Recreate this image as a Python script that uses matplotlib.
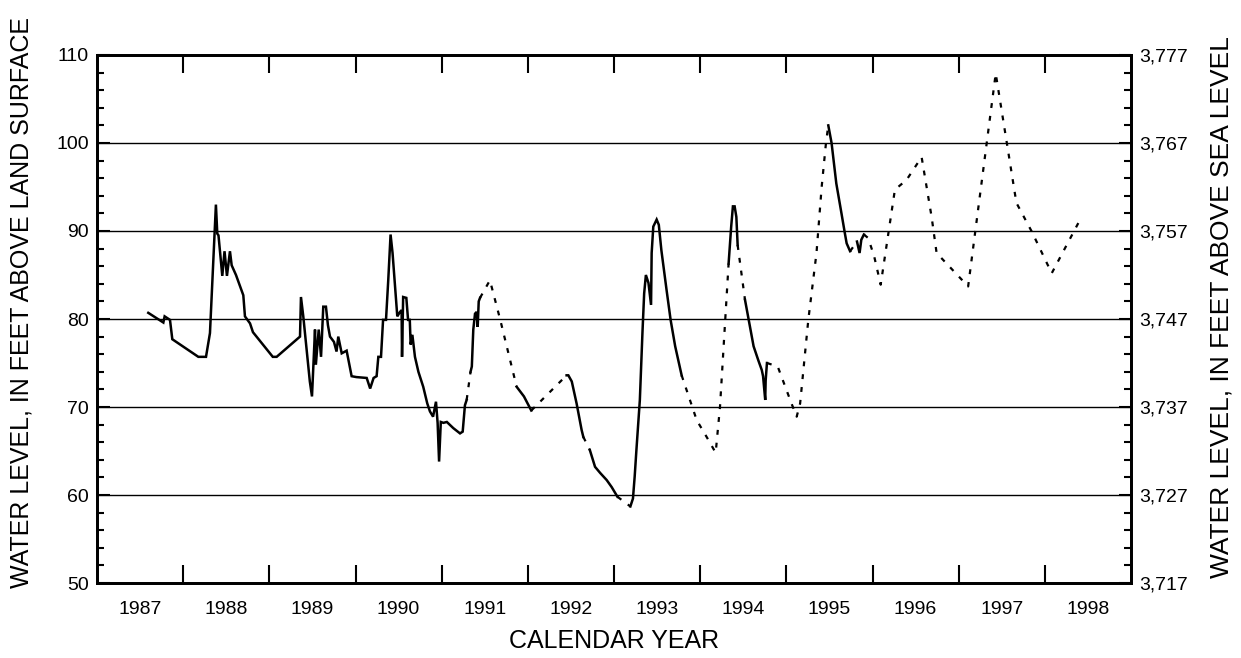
import numpy as np
import matplotlib
matplotlib.use("Agg")
import matplotlib.pyplot as plt
from matplotlib.ticker import MultipleLocator, FixedLocator, FuncFormatter, NullFormatter

plt.rcParams['font.family'] = ['Liberation Sans', 'DejaVu Sans']

# decimal year, water level (ft above land surface), style of segment to next point
# 'S' = measured (solid), 'D' = estimated (dotted)
years = [
    1987.595, 1987.77, 1987.785, 1987.847, 1987.874, 1988.176, 1988.265, 1988.311,
    1988.38, 1988.396, 1988.41, 1988.454, 1988.48, 1988.508, 1988.543, 1988.563,
    1988.613, 1988.698, 1988.717, 1988.776, 1988.81, 1989.04, 1989.085, 1989.356,
    1989.367, 1989.394, 1989.47, 1989.495, 1989.53, 1989.54, 1989.573, 1989.6,
    1989.626, 1989.657, 1989.68, 1989.704, 1989.75, 1989.78, 1989.8, 1989.84,
    1989.897, 1989.955, 1990.01, 1990.13, 1990.17, 1990.21, 1990.245, 1990.265,
    1990.296, 1990.32, 1990.354, 1990.38, 1990.407, 1990.43, 1990.485, 1990.516,
    1990.535, 1990.54, 1990.553, 1990.59, 1990.61, 1990.63, 1990.64, 1990.66,
    1990.69, 1990.73, 1990.786, 1990.833, 1990.864, 1990.9, 1990.934, 1990.953,
    1990.97, 1990.99, 1991.02, 1991.06, 1991.135, 1991.213, 1991.244, 1991.27,
    1991.29, 1991.335, 1991.35, 1991.367, 1991.387, 1991.406, 1991.418, 1991.43,
    1991.445, 1991.56, 1991.68, 1991.87, 1991.955, 1992.04, 1992.45, 1992.47,
    1992.51, 1992.566, 1992.624, 1992.644, 1992.72, 1992.78, 1992.84, 1992.915,
    1992.973, 1993.04, 1993.19, 1993.22, 1993.24, 1993.26, 1993.3, 1993.33,
    1993.35, 1993.37, 1993.40, 1993.43, 1993.437, 1993.456, 1993.495, 1993.52,
    1993.55, 1993.61, 1993.657, 1993.71, 1993.785, 1993.96, 1994.075, 1994.18,
    1994.23, 1994.33, 1994.36, 1994.38, 1994.40, 1994.42, 1994.435, 1994.52,
    1994.62, 1994.675, 1994.715, 1994.73, 1994.755, 1994.76, 1994.775, 1994.9,
    1995.06, 1995.12, 1995.16, 1995.255, 1995.35, 1995.41, 1995.46, 1995.487,
    1995.525, 1995.58, 1995.64, 1995.68, 1995.7, 1995.74, 1995.82, 1995.85,
    1995.87, 1995.9, 1995.95, 1996.02, 1996.095, 1996.26, 1996.395, 1996.57,
    1996.686, 1996.744, 1997.11, 1997.43, 1997.67, 1997.85, 1998.08, 1998.41,
]
levels = [
    80.7, 79.6, 80.3, 79.9, 77.7, 75.7, 75.7, 78.4,
    93.0, 89.7, 89.5, 84.9, 87.7, 84.9, 87.7, 86.1,
    85.0, 82.7, 80.3, 79.5, 78.5, 75.7, 75.7, 78.0,
    82.5, 80.3, 72.9, 71.2, 78.8, 74.8, 78.8, 75.7,
    81.4, 81.4, 79.3, 78.0, 77.4, 76.3, 78.0, 76.1,
    76.4, 73.5, 73.4, 73.3, 72.1, 73.3, 73.5, 75.7,
    75.7, 79.9, 79.9, 84.4, 89.6, 87.5, 80.3, 80.8,
    81.0, 75.7, 82.5, 82.4, 79.9, 79.9, 77.1, 78.2,
    75.7, 74.0, 72.3, 70.4, 69.5, 68.9, 70.6, 68.2,
    63.8, 68.3, 68.2, 68.3, 67.6, 67.0, 67.2, 70.2,
    70.8, 74.0, 74.6, 78.8, 80.6, 80.8, 79.1, 82.0,
    82.4, 84.4, 79.9, 72.3, 71.2, 69.6, 73.6, 73.6,
    72.9, 70.4, 67.4, 66.6, 65.1, 63.2, 62.5, 61.7,
    60.9, 59.8, 58.7, 59.6, 62.1, 65.1, 70.8, 78.4,
    82.9, 85.0, 84.1, 81.6, 87.5, 90.5, 91.3, 90.7,
    87.8, 83.3, 79.9, 76.9, 73.6, 68.5, 66.6, 64.8,
    70.0, 86.3, 90.5, 92.8, 92.8, 91.6, 88.4, 82.2,
    76.9, 75.3, 74.2, 73.5, 70.8, 73.0, 75.0, 74.6,
    70.4, 68.9, 70.4, 79.9, 87.5, 95.0, 100.0, 102.0,
    100.0, 95.4, 92.0, 89.7, 88.6, 87.7, 88.8, 87.5,
    89.0, 89.6, 89.2, 87.1, 83.9, 94.7, 95.8, 98.4,
    91.6, 87.5, 83.7, 107.9, 93.2, 89.9, 85.2, 91.3,
]
styles = (
    "SSSSSSSS" "SSSSSSSS" "SSSSSSSS" "SSSSSSSS" "SSSSSSSS"
    "SSSSSSSS" "SSSSSSSS" "SSSSSSSS" "SSSSSSSS" "SSSSSSSS"
    "DSSSSSSS" "DDDSSDSS" "SSSDSSSS" "SDSSSSSS" "SSSSSSSS"
    "SSSSDDDD" "DSSSSSDS" "SSSSSSDD" "DDDDDDDS" "SSSSSDSS"
    "SDDDDDDD" "DDDDDDDD"
)

land_surface_alt = 3667  # sea-level datum offset
year_labels = [str(y) for y in range(1987, 1999)]

fig = plt.figure(figsize=(12.41, 6.58), dpi=100)
ax = fig.add_axes([97 / 1241, 1 - 583 / 658, (1131 - 97) / 1241, (583 - 55) / 658])

# draw runs of consecutive segments with the same style
x = np.array(years)
y = np.array(levels)
i = 0
n = len(x)
while i < n - 1:
    s = styles[i]
    j = i
    while j < n - 1 and styles[j] == s:
        j += 1
    if s == 'S':
        ax.plot(x[i:j + 1], y[i:j + 1], color='black', lw=1.8, solid_joinstyle='miter')
    else:
        ax.plot(x[i:j + 1], y[i:j + 1], color='black', lw=1.6, linestyle=(0, (2.2, 3.6)))
    i = j

ax.set_xlim(1987, 1999)
ax.set_ylim(50, 110)

# years: tick marks at year boundaries, labels centred in the year
ax.xaxis.set_major_locator(FixedLocator(np.arange(1988, 1999)))
ax.xaxis.set_major_formatter(NullFormatter())
ax.xaxis.set_minor_locator(FixedLocator(np.arange(1987.5, 1999, 1.0)))
ax.xaxis.set_minor_formatter(FuncFormatter(lambda v, p: year_labels[int(v - 1987)]))
ax.tick_params(axis='x', which='major', direction='in', length=13, width=1.5, top=True, bottom=True)
ax.tick_params(axis='x', which='minor', length=0, pad=13, labelsize=14)

ax.yaxis.set_major_locator(MultipleLocator(10))
ax.yaxis.set_minor_locator(MultipleLocator(2))
ax.tick_params(axis='y', which='major', direction='in', length=9, width=1.5, labelsize=14, pad=6)
ax.tick_params(axis='y', which='minor', direction='in', length=5, width=1.5)
ax.grid(True, axis='y', which='major', color='black', lw=1.0)

for sp in ax.spines.values():
    sp.set_linewidth(2.0)

ax2 = ax.twinx()
ax2.set_ylim(50 + land_surface_alt, 110 + land_surface_alt)
ax2.yaxis.set_major_locator(FixedLocator(np.arange(50, 111, 10) + land_surface_alt))
ax2.yaxis.set_minor_locator(FixedLocator(np.arange(50, 111, 2) + land_surface_alt))
ax2.yaxis.set_major_formatter(FuncFormatter(lambda v, p: f"{int(round(v)):,}"))
ax2.tick_params(axis='y', which='major', direction='in', length=9, width=1.5, labelsize=14, pad=6)
ax2.tick_params(axis='y', which='minor', direction='in', length=5, width=1.5)
for sp in ax2.spines.values():
    sp.set_linewidth(2.0)

fig.text(22 / 1241, 1 - 303 / 658, "WATER LEVEL, IN FEET ABOVE LAND SURFACE",
         rotation=90, ha='center', va='center', fontsize=18)
fig.text(1222 / 1241, 1 - 307 / 658, "WATER LEVEL, IN FEET ABOVE SEA LEVEL",
         rotation=90, ha='center', va='center', fontsize=19)
fig.text(614 / 1241, 1 - 641 / 658, "CALENDAR YEAR", ha='center', va='center', fontsize=18)

fig.savefig("out.png", dpi=100)
